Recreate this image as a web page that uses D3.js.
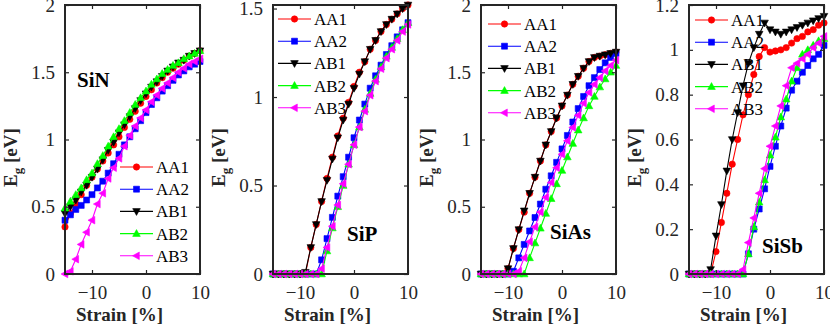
<!DOCTYPE html>
<html><head><meta charset="utf-8">
<script src="https://cdn.jsdelivr.net/npm/d3@7"></script>
<style>body{margin:0;background:#fff}svg{display:block}
svg text{font-family:"Liberation Serif","Times New Roman",Tinos,serif}</style>
</head><body>
<svg id="chart" width="830" height="327"></svg>
<script>
// ---------------- DATA ----------------
const strain = [-15,-14,-13,-12,-11,-10,-9,-8,-7,-6,-5,-4,-3,-2,-1,0,1,2,3,4,5,6,7,8,9,10];
const seriesNames = ["AA1","AA2","AB1","AB2","AB3"];
const panelNames = ["SiN","SiP","SiAs","SiSb"];
const xTicks = [-10, 0, 10];
const yTicksSiN = [0, 0.5, 1, 1.5, 2];
const yTicksSiP = [0, 0.5, 1, 1.5];
const yTicksSiAs = [0, 0.5, 1, 1.5, 2];
const yTicksSiSb = [0, 0.2, 0.4, 0.6, 0.8, 1, 1.2];

// SiN
const SiN_AA1 = [0.35,0.45,0.52,0.59,0.66,0.72,0.78,0.84,0.90,0.96,1.02,1.09,1.15,1.21,1.27,1.32,1.37,1.42,1.46,1.50,1.53,1.56,1.59,1.62,1.64,1.66];
const SiN_AA2 = [0.40,0.44,0.48,0.51,0.55,0.59,0.64,0.69,0.75,0.82,0.89,0.96,1.02,1.08,1.14,1.20,1.26,1.31,1.36,1.40,1.44,1.48,1.51,1.54,1.56,1.58];
const SiN_AB1 = [0.45,0.50,0.55,0.61,0.66,0.72,0.78,0.85,0.92,0.98,1.05,1.11,1.17,1.23,1.29,1.34,1.39,1.43,1.47,1.51,1.54,1.57,1.59,1.62,1.64,1.66];
const SiN_AB2 = [0.49,0.54,0.59,0.64,0.70,0.75,0.82,0.88,0.95,1.02,1.08,1.14,1.20,1.26,1.31,1.36,1.41,1.45,1.49,1.52,1.55,1.57,1.60,1.62,1.64,1.66];
const SiN_AB3 = [0.00,0.02,0.11,0.22,0.31,0.40,0.52,0.60,0.71,0.79,0.86,0.95,1.03,1.10,1.16,1.22,1.28,1.33,1.38,1.42,1.46,1.50,1.53,1.56,1.58,1.60];
// SiP
const SiP_AA1 = [0,0,0,0,0,0,0,0.15,0.28,0.41,0.54,0.66,0.78,0.88,0.97,1.06,1.14,1.20,1.27,1.32,1.37,1.41,1.44,1.47,1.50,1.52];
const SiP_AA2 = [0,0,0,0,0,0,0,0,0,0.08,0.20,0.32,0.44,0.55,0.66,0.77,0.87,0.96,1.05,1.12,1.18,1.24,1.29,1.34,1.38,1.42];
const SiP_AB1 = [0,0,0,0,0,0,0.01,0.15,0.28,0.41,0.53,0.65,0.77,0.87,0.96,1.05,1.13,1.20,1.27,1.32,1.37,1.41,1.44,1.47,1.50,1.52];
const SiP_AB2 = [0,0,0,0,0,0,0,0,0,0,0.13,0.26,0.38,0.50,0.62,0.73,0.83,0.93,1.02,1.10,1.17,1.23,1.28,1.33,1.38,1.42];
const SiP_AB3 = [0,0,0,0,0,0,0,0,0,0.03,0.15,0.27,0.39,0.51,0.62,0.73,0.83,0.92,1.01,1.09,1.16,1.22,1.27,1.32,1.37,1.41];
// SiAs
const SiAs_AA1 = [0,0,0,0,0,0.04,0.19,0.33,0.46,0.60,0.72,0.84,0.96,1.06,1.16,1.25,1.33,1.41,1.47,1.53,1.58,1.61,1.62,1.63,1.64,1.65];
const SiAs_AA2 = [0,0,0,0,0,0,0.02,0.12,0.22,0.32,0.42,0.52,0.63,0.73,0.83,0.93,1.03,1.13,1.23,1.32,1.40,1.46,1.52,1.57,1.61,1.64];
const SiAs_AB1 = [0,0,0,0,0,0.04,0.19,0.33,0.47,0.60,0.72,0.84,0.96,1.06,1.16,1.25,1.33,1.41,1.47,1.53,1.58,1.61,1.62,1.63,1.64,1.65];
const SiAs_AB2 = [0,0,0,0,0,0,0,0,0,0.12,0.23,0.34,0.45,0.56,0.67,0.77,0.87,0.97,1.07,1.16,1.25,1.32,1.39,1.45,1.50,1.55];
const SiAs_AB3 = [0,0,0,0,0,0,0,0.02,0.12,0.24,0.35,0.46,0.57,0.68,0.79,0.89,0.99,1.09,1.18,1.27,1.35,1.41,1.46,1.51,1.55,1.59];
// SiSb
const SiSb_AA1 = [0,0,0,0,0,0.10,0.23,0.36,0.49,0.60,0.71,0.80,0.89,0.97,1.01,0.99,0.995,1.00,1.01,1.03,1.05,1.06,1.08,1.09,1.11,1.12];
const SiSb_AA2 = [0,0,0,0,0,0,0,0,0,0,0,0.09,0.20,0.29,0.38,0.48,0.57,0.66,0.74,0.82,0.86,0.90,0.93,0.96,0.98,1.02];
const SiSb_AB1 = [0,0,0,0,0.02,0.17,0.31,0.46,0.60,0.72,0.84,0.94,1.01,1.07,1.12,1.09,1.08,1.07,1.08,1.09,1.10,1.11,1.12,1.13,1.14,1.15];
const SiSb_AB2 = [0,0,0,0,0,0,0,0,0,0,0,0.09,0.21,0.32,0.42,0.53,0.61,0.70,0.78,0.86,0.92,0.98,1.00,1.02,1.04,1.05];
const SiSb_AB3 = [0,0,0,0,0,0,0,0,0,0,0.02,0.14,0.25,0.36,0.47,0.57,0.66,0.75,0.84,0.92,0.94,0.96,0.98,1.01,1.03,1.06];

// ---------------- LAYOUT / STYLE ----------------
const colors = {AA1:"#ff0000", AA2:"#0000ff", AB1:"#000000", AB2:"#00ff00", AB3:"#ff00ff"};
const markers = {AA1:"circle", AA2:"square", AB1:"down", AB2:"up", AB3:"left"};
const panels = [
  {name:"SiN", left:65, ymax:2, yticks:yTicksSiN, data:[SiN_AA1,SiN_AA2,SiN_AB1,SiN_AB2,SiN_AB3], lab:[77,87], leg:[120,167]},
  {name:"SiP", left:273, ymax:1.52, yticks:yTicksSiP, data:[SiP_AA1,SiP_AA2,SiP_AB1,SiP_AB2,SiP_AB3], lab:[347,241], leg:[278,19]},
  {name:"SiAs", left:481, ymax:2, yticks:yTicksSiAs, data:[SiAs_AA1,SiAs_AA2,SiAs_AB1,SiAs_AB2,SiAs_AB3], lab:[550,239], leg:[488,24]},
  {name:"SiSb", left:689, ymax:1.2, yticks:yTicksSiSb, data:[SiSb_AA1,SiSb_AA2,SiSb_AB1,SiSb_AB2,SiSb_AB3], lab:[762,253], leg:[695,20]}
];
const W = 135, plotTop = 5, plotBottom = 274;
const axisColor = "#262626";

const svg = d3.select("#chart");

function markerPath(type, cx, cy) {
  const s = 3.4;
  switch(type){
    case "square": return `M${cx-3},${cy-3}h6v6h-6z`;
    case "down": return `M${cx-s-0.4},${cy-s+0.6}L${cx+s+0.4},${cy-s+0.6}L${cx},${cy+s+0.6}Z`;
    case "up": return `M${cx-s-0.4},${cy+s-0.6}L${cx+s+0.4},${cy+s-0.6}L${cx},${cy-s-0.6}Z`;
    case "left": return `M${cx+s-0.6},${cy-s-0.4}L${cx+s-0.6},${cy+s+0.4}L${cx-s-0.6},${cy}Z`;
  }
}
function drawMarker(g, type, cx, cy, color) {
  if (type === "circle") g.append("circle").attr("cx",cx).attr("cy",cy).attr("r",3.2).attr("fill",color).attr("stroke",color).attr("stroke-width",0.6);
  else g.append("path").attr("d", markerPath(type,cx,cy)).attr("fill",color).attr("stroke",color).attr("stroke-width",0.6);
}

panels.forEach(p => {
  const x = d3.scaleLinear().domain([-15, 10]).range([p.left, p.left + W]);
  const y = d3.scaleLinear().domain([0, p.ymax]).range([plotBottom, plotTop]);
  const g = svg.append("g");

  seriesNames.forEach((sn, i) => {
    const vals = p.data[i];
    const pts = strain.map((s, k) => [x(s), y(vals[k])]);
    g.append("path").attr("d", d3.line()(pts)).attr("fill","none").attr("stroke",colors[sn]).attr("stroke-width",1.1);
    const mg = g.append("g");
    pts.forEach(pt => drawMarker(mg, markers[sn], pt[0], pt[1], colors[sn]));
  });

  const ax = g.append("g");
  const left = ax.append("g").attr("transform",`translate(${p.left},0)`).call(d3.axisLeft(y).tickValues(p.yticks).tickSize(-4).tickPadding(10).tickFormat(d3.format("~g")));
  const right = ax.append("g").attr("transform",`translate(${p.left+W},0)`).call(d3.axisRight(y).tickValues(p.yticks).tickSize(-4).tickFormat(""));
  const bot = ax.append("g").attr("transform",`translate(0,${plotBottom})`).call(d3.axisBottom(x).tickValues(xTicks).tickSize(-4).tickPadding(12).tickFormat(d => d3.format("d")(d)));
  const topA = ax.append("g").attr("transform",`translate(0,${plotTop})`).call(d3.axisTop(x).tickValues(xTicks).tickSize(-4).tickFormat(""));
  [left,right,bot,topA].forEach(a => {
    a.attr("font-family", null);
    a.select(".domain").remove();
    a.selectAll("line").attr("stroke", axisColor).attr("stroke-width",1.2);
    a.selectAll("text").attr("fill", axisColor).attr("font-size", 19);
  });
  ax.append("rect").attr("x",p.left).attr("y",plotTop).attr("width",W).attr("height",plotBottom-plotTop)
    .attr("fill","none").attr("stroke",axisColor).attr("stroke-width",2);

  svg.append("text").attr("x", p.left + 11).attr("y", 321).attr("font-weight","bold")
    .attr("font-size",19).attr("fill",axisColor).text("Strain [%]");
  const yl = svg.append("text").attr("transform",`translate(${p.left-48},187) rotate(-90)`)
    .attr("font-weight","bold").attr("font-size",19).attr("fill",axisColor);
  yl.append("tspan").text("E");
  yl.append("tspan").attr("font-size",13).attr("dy",5).text("g");
  yl.append("tspan").attr("dy",-5).text(" [eV]");

  svg.append("text").attr("x",p.lab[0]).attr("y",p.lab[1]).attr("font-weight","bold")
    .attr("font-size",21).attr("fill","#000").text(p.name);

  const lg = svg.append("g");
  seriesNames.forEach((sn,i) => {
    const ly = p.leg[1] + i*22.2;
    lg.append("line").attr("x1",p.leg[0]).attr("x2",p.leg[0]+33).attr("y1",ly).attr("y2",ly).attr("stroke",colors[sn]).attr("stroke-width",1.1);
    drawMarker(lg, markers[sn], p.leg[0]+16.5, ly, colors[sn]);
    lg.append("text").attr("x",p.leg[0]+36).attr("y",ly+6).attr("font-size",17).attr("fill","#000").text(sn);
  });
});
</script>
</body></html>
